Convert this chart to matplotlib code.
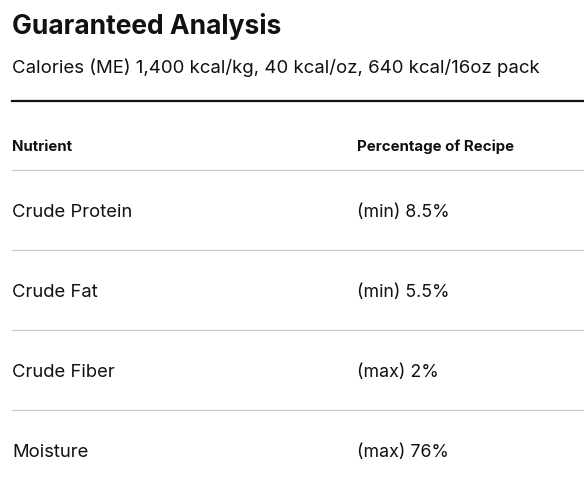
import matplotlib
matplotlib.use("Agg")
import matplotlib.pyplot as plt

title = "Guaranteed Analysis"
subtitle = "Calories (ME) 1,400 kcal/kg, 40 kcal/oz, 640 kcal/16oz pack"
headers = ["Nutrient", "Percentage of Recipe"]
nutrients = ["Crude Protein", "Crude Fat", "Crude Fiber", "Moisture"]
values = ["(min) 8.5%", "(min) 5.5%", "(max) 2%", "(max) 76%"]

W, H = 584, 486
fig = plt.figure(figsize=(W/100, H/100), dpi=100)
ax = fig.add_axes([0, 0, 1, 1])
ax.set_xlim(0, W); ax.set_ylim(H, 0); ax.axis("off")
plt.rcParams['font.family'] = ['Inter', 'DejaVu Sans']

ax.text(12, 26, title, fontsize=19, fontweight="bold", va="center", color="#111")
ax.text(12, 68, subtitle, fontsize=13.4, va="center", color="#111")
ax.plot([12, 584], [101, 101], color="#111", lw=1.6)
ax.text(12, 147, headers[0], fontsize=10.8, fontweight="bold", va="center", color="#111")
ax.text(357, 147, headers[1], fontsize=10.8, fontweight="bold", va="center", color="#111")
for i, (n, v) in enumerate(zip(nutrients, values)):
    yl = 170 + 80*i
    ax.plot([12, 584], [yl, yl], color="#cccccc", lw=0.9)
    ax.text(12, yl + 42, n, fontsize=13.3, va="center", color="#111")
    ax.text(357, yl + 42, v, fontsize=12.8, va="center", color="#111")
fig.savefig("out.png", dpi=100)
